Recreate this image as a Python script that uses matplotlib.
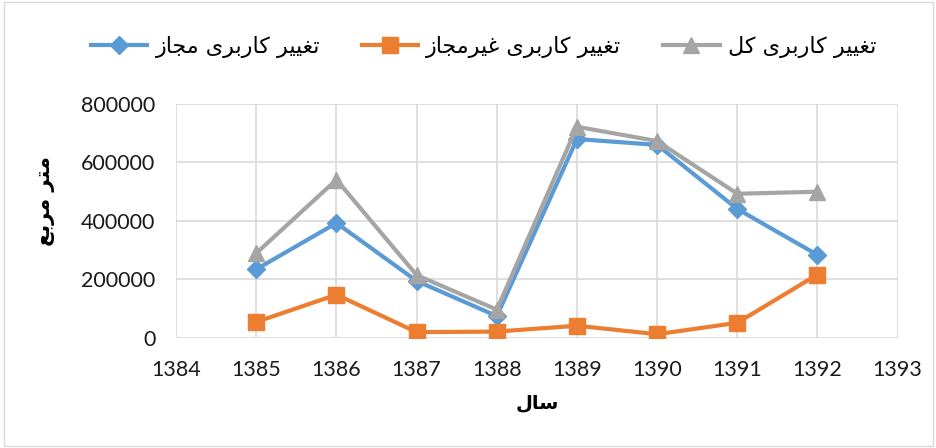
import matplotlib
matplotlib.use("Agg")
import matplotlib.pyplot as plt
from matplotlib.patches import Rectangle

years = [1385, 1386, 1387, 1388, 1389, 1390, 1391, 1392]
legal = [235000, 393000, 195000, 75000, 680000, 660000, 441000, 284000]
illegal = [55000, 148000, 20000, 22000, 42000, 13000, 52000, 217000]
total = [290000, 541000, 215000, 97000, 722000, 673000, 493000, 500000]
series_names = ["تغییر کاربری مجاز", "تغییر کاربری غیرمجاز", "تغییر کاربری کل"]
x_label = "سال"
y_label = "متر مربع"
x_ticks = list(range(1384, 1394))
y_ticks = [0, 200000, 400000, 600000, 800000]

# minimal Arabic/Persian shaping (matplotlib has no complex text layout)
FORMS = {
    'ت': ('\uFE95', '\uFE96', '\uFE97', '\uFE98'),
    'غ': ('\uFECD', '\uFECE', '\uFECF', '\uFED0'),
    'ی': ('\uFBFC', '\uFBFD', '\uFBFE', '\uFBFF'),
    'ر': ('\uFEAD', '\uFEAE', None, None),
    'ک': ('\uFB8E', '\uFB8F', '\uFB90', '\uFB91'),
    'ا': ('\uFE8D', '\uFE8E', None, None),
    'ب': ('\uFE8F', '\uFE90', '\uFE91', '\uFE92'),
    'م': ('\uFEE1', '\uFEE2', '\uFEE3', '\uFEE4'),
    'ج': ('\uFE9D', '\uFE9E', '\uFE9F', '\uFEA0'),
    'ز': ('\uFEAF', '\uFEB0', None, None),
    'ل': ('\uFEDD', '\uFEDE', '\uFEDF', '\uFEE0'),
    'س': ('\uFEB1', '\uFEB2', '\uFEB3', '\uFEB4'),
    'ع': ('\uFEC9', '\uFECA', '\uFECB', '\uFECC'),
}


def dual(c):
    return c in FORMS and FORMS[c][2] is not None


def shape(s):
    out = []
    for i, c in enumerate(s):
        if c not in FORMS:
            out.append(c)
            continue
        prev = s[i - 1] if i > 0 else ''
        nxt = s[i + 1] if i + 1 < len(s) else ''
        jp = dual(prev)
        jn = dual(c) and nxt in FORMS
        f = FORMS[c]
        if jp and jn:
            out.append(f[3])
        elif jp:
            out.append(f[1])
        elif jn:
            out.append(f[2])
        else:
            out.append(f[0])
    return ''.join(reversed(out))


AR = ['DejaVu Sans']
plt.rcParams['font.family'] = ['Lato', 'DejaVu Sans']

fig = plt.figure(figsize=(9.37, 4.48), dpi=100)
ax = fig.add_axes([0.188, 0.2455, 0.770, 0.5225])

colors = ['#5B9BD5', '#ED7D31', '#A5A5A5']
markers = ['D', 's', '^']
msizes = [9, 11, 11]
for vals, col, mk, ms, name in zip([legal, illegal, total], colors, markers, msizes, series_names):
    ax.plot(years, vals, color=col, lw=3, marker=mk, markersize=ms,
            label=shape(name), zorder=3)

ax.set_xlim(1384, 1393)
ax.set_ylim(0, 800000)
ax.set_xticks(x_ticks)
ax.set_yticks(y_ticks)
ax.set_xticklabels([str(t) for t in x_ticks])
ax.set_yticklabels([str(t) for t in y_ticks])
ax.grid(True, color='#d9d9d9', lw=1.2)
ax.set_axisbelow(True)
for sp in ax.spines.values():
    sp.set_visible(False)
ax.tick_params(length=0, labelsize=15.5, colors='#1a1a1a')
ax.tick_params(axis='x', pad=16)
ax.tick_params(axis='y', pad=15)

ax.set_xlabel(shape(x_label), family=AR, fontsize=14, fontweight='bold', va='top')
ax.xaxis.set_label_coords(0.5, -0.235)
ax.set_ylabel(shape(y_label), family=AR, fontsize=15, fontweight='bold')
ax.yaxis.set_label_coords(-0.168, 0.585)

leg = fig.legend(loc='center', bbox_to_anchor=(0.516, 0.895), ncol=3, frameon=False,
                 prop={'family': AR, 'size': 16}, handlelength=2.55,
                 handletextpad=0.37, columnspacing=1.86)

fig.patches.append(Rectangle((0.004, 0.004), 0.992, 0.992, transform=fig.transFigure,
                             fill=False, edgecolor='#d9d9d9', lw=1))

fig.savefig('out.png', dpi=100)
